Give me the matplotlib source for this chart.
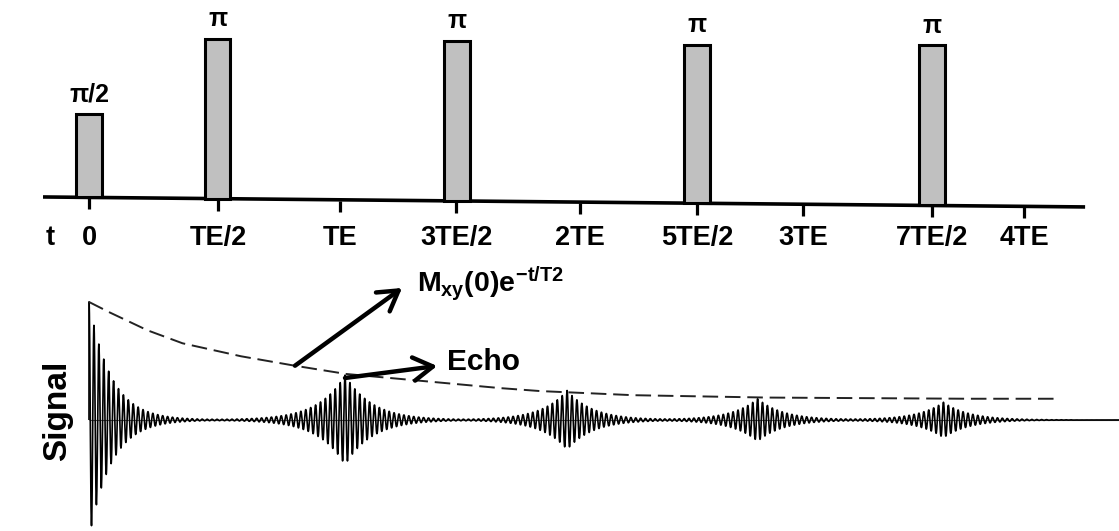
import numpy as np
import matplotlib
matplotlib.use("Agg")
import matplotlib.pyplot as plt

plt.rcParams['font.family'] = ['Liberation Sans', 'DejaVu Sans']
plt.rcParams['font.weight'] = 'bold'
plt.rcParams['mathtext.fontset'] = 'custom'
plt.rcParams['mathtext.rm'] = 'Liberation Sans:bold'
plt.rcParams['mathtext.it'] = 'Liberation Sans:bold'
plt.rcParams['mathtext.bf'] = 'Liberation Sans:bold'

# pulse sequence (time in units of TE)
pulse_t = [0.0, 0.55, 1.575, 2.60, 3.605]
pulse_h = [0.52, 1.0, 1.0, 0.99, 1.0]
pulse_lbl = ['π/2', 'π', 'π', 'π', 'π']

tick_t = [0.0, 0.552, 1.074, 1.57, 2.10, 2.60, 3.055, 3.606, 4.0]
tick_lbl = ['0', 'TE/2', 'TE', '3TE/2', '2TE', '5TE/2', '3TE', '7TE/2', '4TE']

# signal: FID + echoes
fid_amp = 1.0
fid_tau = 0.095
echo_t = [1.095, 2.045, 2.86, 3.655]
echo_amp = [0.38, 0.25, 0.18, 0.15]
echo_w = [0.115, 0.11, 0.11, 0.11]
period = 0.021

# dashed T2 envelope
env_t = [0.0, 0.09, 0.25, 0.40, 0.65, 0.88, 1.10, 1.76, 1.93, 2.33, 2.90, 3.76, 4.14]
env_a = [1.0, 0.91, 0.76, 0.65, 0.54, 0.46, 0.39, 0.27, 0.245, 0.21, 0.19, 0.18, 0.18]

x_lo, x_hi = -0.381, 4.406
base_t0, base_t1 = -0.197, 4.261
base_tilt = 0.014


def baseline(t):
    return -base_tilt * (np.asarray(t) - base_t0)


fig = plt.figure(figsize=(11.19, 5.31), dpi=100)

# ---- top: pulse sequence ----
ax1 = fig.add_axes([0, 271 / 531, 1, 260 / 531])
ax1.set_xlim(x_lo, x_hi)
ax1.set_ylim(-0.394, 1.231)
ax1.axis('off')

ax1.plot([base_t0, base_t1], baseline([base_t0, base_t1]), color='black', lw=2.6,
         solid_capstyle='butt', zorder=2)
ax1.bar(pulse_t, pulse_h, bottom=baseline(pulse_t), width=0.11, color='#c0c0c0',
        edgecolor='black', lw=2.2, zorder=3)
for t, h, s in zip(pulse_t, pulse_h, pulse_lbl):
    ax1.annotate(s, (t, baseline(t) + h), xytext=(0, 9), textcoords='offset points',
                 ha='center', va='baseline', fontsize=18, fontweight='bold')

tb = baseline(tick_t)
ax1.vlines(tick_t, tb - 0.005, tb - 0.075, color='black', lw=2.3)
for t, s in zip(tick_t, tick_lbl):
    ax1.text(t, -0.256, s, ha='center', va='center', fontsize=19.5, fontweight='bold')
ax1.text(-0.167, -0.256, 't', ha='center', va='center', fontsize=19.5, fontweight='bold')

# ---- bottom: signal ----
ax2 = fig.add_axes([0, 0, 1, 271 / 531])
ax2.set_xlim(x_lo, x_hi)
ax2.set_ylim(-0.941, 1.356)
ax2.axis('off')

t = np.linspace(0, x_hi, 16000)
sig = fid_amp * np.exp(-t / fid_tau) * np.cos(2 * np.pi * t / period)
for te, a, w in zip(echo_t, echo_amp, echo_w):
    sig += a * np.exp(-np.abs(t - te) / w) * np.cos(2 * np.pi * (t - te) / period)

ax2.hlines(0, 0, x_hi, color='#555555', lw=0.8)
ax2.plot(t, sig, color='black', lw=1.2)
ax2.vlines(0, 0, fid_amp, color='black', lw=1.2)
ax2.plot(env_t, env_a, color='#222222', lw=1.4, dashes=(8, 3.5))

arrow = dict(arrowstyle='->,head_length=0.7,head_width=0.42', lw=3.2, color='black',
             mutation_scale=20, shrinkA=0, shrinkB=0)
ax2.annotate('', xy=(1.339, 1.119), xytext=(0.881, 0.46), arrowprops=arrow)
ax2.annotate('', xy=(1.489, 0.458), xytext=(1.095, 0.356), arrowprops=arrow)
ax2.text(1.403, 1.085, r'$M_{xy}(0)e^{-t/T2}$', ha='left', va='baseline', fontsize=20.5)
ax2.text(1.532, 0.424, 'Echo', ha='left', va='baseline', fontsize=21.5, fontweight='bold')
ax2.text(-0.133, 0.076, 'Signal', rotation=90, ha='center', va='center',
         fontsize=24, fontweight='bold')

fig.savefig('out.png', dpi=100)
